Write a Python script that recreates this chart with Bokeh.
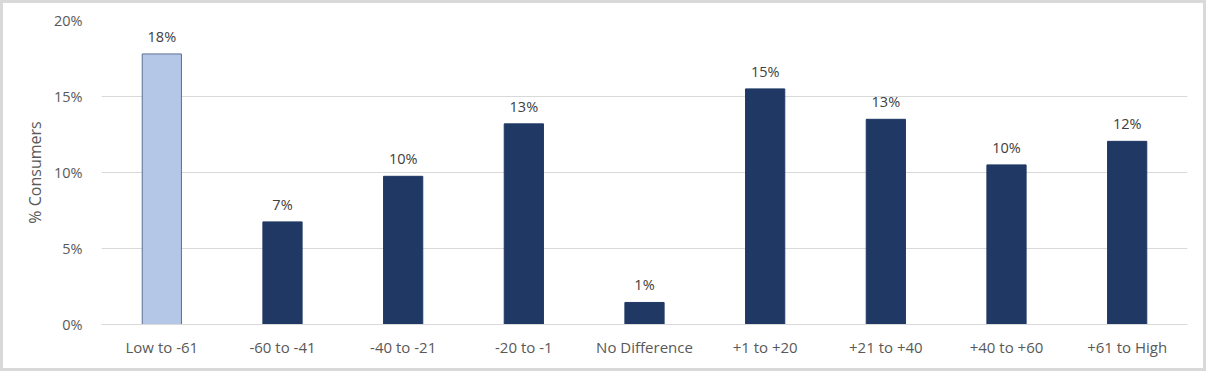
from bokeh.plotting import figure
from bokeh.models import ColumnDataSource, FactorRange, Range1d, LabelSet, FixedTicker, CustomJSTickFormatter
from bokeh.core.properties import value
from bokeh.embed import file_html
from bokeh.resources import INLINE

categories = ["Low to -61", "-60 to -41", "-40 to -21", "-20 to -1", "No Difference",
              "+1 to +20", "+21 to +40", "+40 to +60", "+61 to High"]
values = [17.8, 6.75, 9.75, 13.2, 1.45, 15.5, 13.5, 10.5, 12.05]
labels = ["18%", "7%", "10%", "13%", "1%", "15%", "13%", "10%", "12%"]
y_ticks = [0, 5, 10, 15, 20]

colors = ["#b4c7e7"] + ["#203864"] * (len(categories) - 1)
line_colors = ["#5b6f95"] + ["#203864"] * (len(categories) - 1)

src = ColumnDataSource(dict(x=categories, top=values, lab=labels, fill=colors, line=line_colors))

FONT = "Open Sans"

p = figure(x_range=FactorRange(*categories, range_padding=0), y_range=Range1d(0, 20),
           width=1206, height=371, output_backend="svg", toolbar_location=None,
           min_border_left=98, min_border_right=22, min_border_top=17, min_border_bottom=50)
p.styles = {"border": "3px solid #d9d9d9", "box-sizing": "border-box"}

p.vbar(x="x", top="top", width=0.325, source=src, fill_color="fill", line_color="line", line_width=1)

p.add_layout(LabelSet(x="x", y="top", text="lab", source=src, y_offset=8,
                      text_align="center", text_baseline="bottom",
                      text_font=value(FONT), text_font_size="14.5px", text_color="#404040"))

p.outline_line_color = None
p.xgrid.grid_line_color = None
p.ygrid.grid_line_color = "#d9d9d9"
p.ygrid.grid_line_width = 1

p.yaxis.ticker = FixedTicker(ticks=y_ticks)
p.yaxis.formatter = CustomJSTickFormatter(code="return tick + '%';")
p.yaxis.axis_line_color = None
p.yaxis.major_tick_line_color = None
p.yaxis.minor_tick_line_color = None
p.yaxis.major_label_standoff = 13
p.yaxis.major_label_text_font = FONT
p.yaxis.major_label_text_font_size = "14.5px"
p.yaxis.major_label_text_color = "#595959"
p.yaxis.axis_label = "% Consumers"
p.yaxis.axis_label_text_font = FONT
p.yaxis.axis_label_text_font_size = "16px"
p.yaxis.axis_label_text_font_style = "normal"
p.yaxis.axis_label_text_color = "#595959"
p.yaxis.axis_label_standoff = 5

p.xaxis.axis_line_color = "#d9d9d9"
p.xaxis.major_tick_line_color = None
p.xaxis.minor_tick_line_color = None
p.xaxis.major_label_standoff = 6
p.xaxis.major_label_text_font = FONT
p.xaxis.major_label_text_font_size = "15px"
p.xaxis.major_label_text_color = "#595959"

open("out.html", "w").write(file_html(p, INLINE))
